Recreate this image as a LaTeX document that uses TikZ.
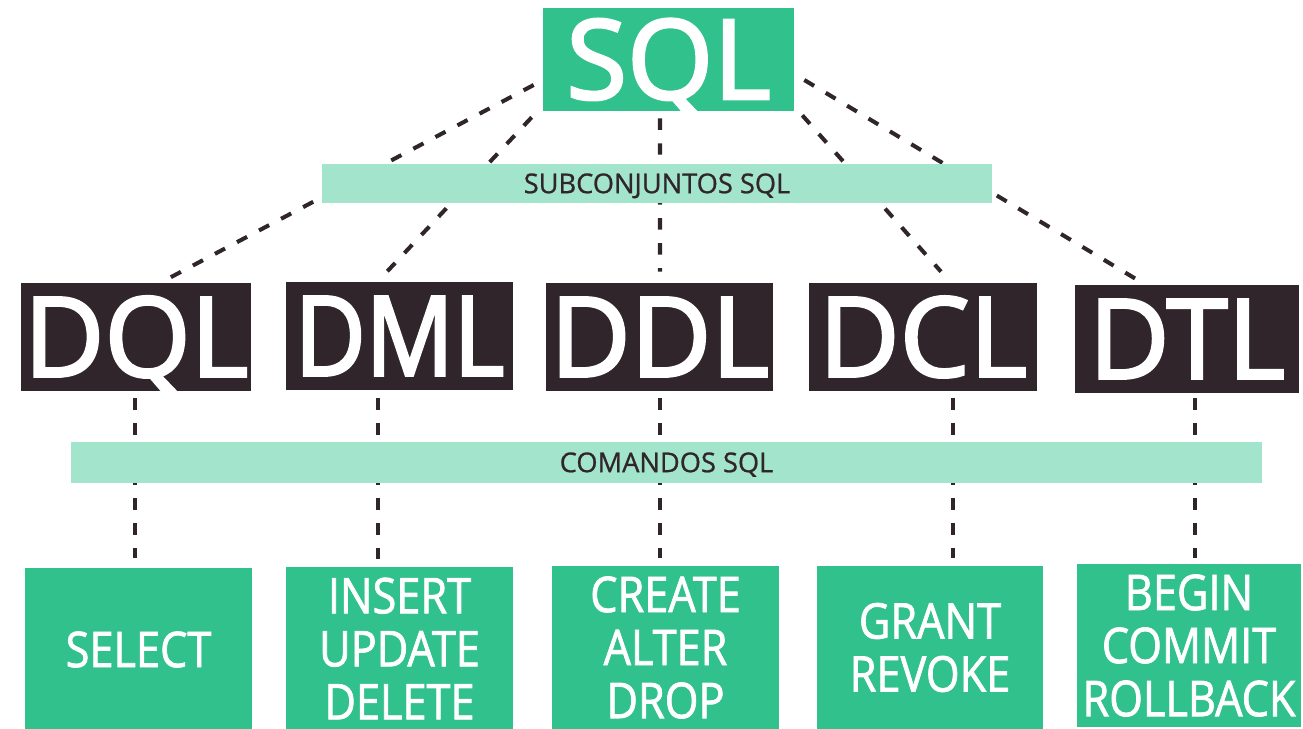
\documentclass[tikz,border=0pt]{standalone}
\usepackage{fontspec}
\setmainfont{Open Sans}
\newfontfamily\heavy{Open Sans}[FakeBold=2.5]
\newfontfamily\heavynarrow{Open Sans}[FakeBold=2.5,FakeStretch=0.88]
\newfontfamily\condensed{Open Sans}[FakeStretch=0.88,FakeBold=1.5]
\newfontfamily\barfont{Open Sans}[FakeBold=0.8]
\usetikzlibrary{calc,backgrounds}
\definecolor{sqlgreen}{HTML}{30C18C}
\definecolor{sqllight}{HTML}{A3E4CC}
\definecolor{sqldark}{HTML}{2F252B}

\begin{document}
\begin{tikzpicture}[x=0.02cm,y=-0.02cm,
    topbox/.style={fill=sqlgreen,text=white,minimum width=5.02cm,minimum height=2.06cm,
      inner sep=0pt,text height=45pt,text depth=0pt,font=\heavy\fontsize{63}{63}\selectfont},
    langbox/.style={fill=sqldark,text=white,minimum height=2.16cm,
      inner sep=0pt,text height=45pt,text depth=0pt,font=\heavy\fontsize{63}{63}\selectfont},
    bar/.style={fill=sqllight,text=sqldark,inner sep=0pt,text height=11pt,text depth=0pt,
      font=\barfont\fontsize{15.5}{15.5}\selectfont},
    cmdbox/.style={fill=sqlgreen,text=white,minimum width=4.54cm,minimum height=3.26cm,
      inner sep=0pt,align=center,font=\condensed\fontsize{28}{30.2}\selectfont},
    link/.style={draw=sqldark,line width=2.3pt,dash pattern=on 6.5pt off 7.7pt}]

          \useasboundingbox (0,0) rectangle (1303,729);
          \clip (0,0) rectangle (1303,729);

          % Main node
          \node[topbox] (sql) at (668.5,59.5) {SQL};

          % Subsets bar
          \node[bar,minimum width=13.4cm,minimum height=0.78cm] (sub) at (657,183.5) {SUBCONJUNTOS SQL};

          % Languages
          \node[langbox,minimum width=4.6cm] (dql) at (136,337) {DQL};
          \node[langbox,minimum width=4.56cm,font=\heavynarrow\fontsize{63}{63}\selectfont] (dml) at (399.5,336) {DML};
          \node[langbox,minimum width=4.54cm] (ddl) at (659.5,337) {DDL};
          \node[langbox,minimum width=4.56cm] (dcl) at (923,337) {DCL};
          \node[langbox,minimum width=4.48cm] (dtl) at (1187,339) {DTL};

          % Commands bar
          \node[bar,minimum width=23.82cm,minimum height=0.82cm] (cmd) at (666.5,462.5) {COMANDOS SQL};

          % Commands
          \node[cmdbox] (sel) at (138.5,649.5) {SELECT};
          \node[cmdbox] (ins) at (399.5,648.5) {INSERT\\UPDATE\\DELETE};
          \node[cmdbox] (cre) at (665.5,647.5) {CREATE\\ALTER\\DROP};
          \node[cmdbox] (gra) at (930,647.5) {GRANT\\REVOKE};
          \node[cmdbox,minimum width=4.48cm] (beg) at (1189,645.5) {BEGIN\\COMMIT\\ROLLBACK};

          \begin{pgfonlayer}{background}
          % SQL to languages
          \draw[link] ([shift={(-9,25.5)}]sql.west) -- ([shift={(34,-5)}]dql.north);
          \draw[link] ([shift={(-11,6)}]sql.south west) -- ([shift={(-12.5,-10)}]dml.north);
          \draw[link] ([shift={(-8.5,7)}]sql.south) -- ([shift={(0.5,-11)}]ddl.north);
          \draw[link] ([shift={(8,4)}]sql.south east) -- ([shift={(18,-11)}]dcl.north);
          \draw[link] ([shift={(10,20.5)}]sql.east) -- ([shift={(-50,-5)}]dtl.north);

          % Languages to commands
          \draw[link] ($(dql.south)+(-1,7)$) -- ($(dql.south |- sel.north)+(-1,-10)$);
          \draw[link] ($(dml.south)+(-21.5,8)$) -- ($(dml.south |- ins.north)+(-21.5,-8)$);
          \draw[link] ($(ddl.south)+(0.5,7)$) -- ($(ddl.south |- cre.north)+(0.5,-8)$);
          \draw[link] ($(dcl.south)+(30,7)$) -- ($(dcl.south |- gra.north)+(30,-8)$);
          \draw[link] ($(dtl.south)+(8,5)$) -- ($(dtl.south |- beg.north)+(8,-6)$);
          \end{pgfonlayer}
        \end{tikzpicture}
\end{document}
